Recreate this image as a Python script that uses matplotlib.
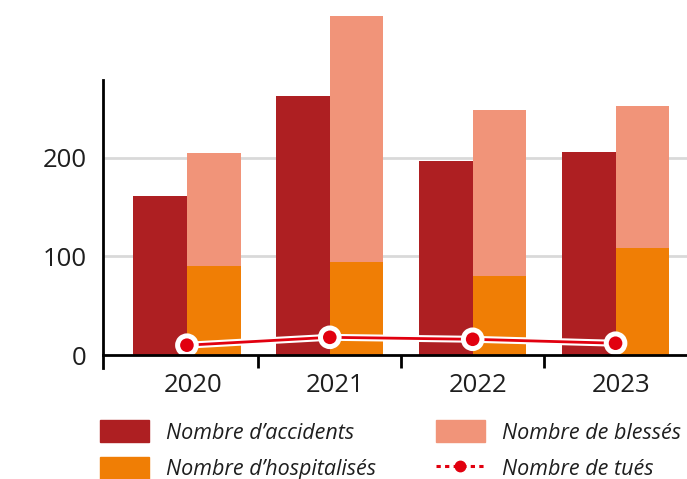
import numpy as np
import matplotlib
matplotlib.use('Agg')
from matplotlib import pyplot as plt
from matplotlib.lines import Line2D
from matplotlib.patches import Patch
import matplotlib.patheffects as pe

years = ['2020', '2021', '2022', '2023']
accidents = [161, 263, 197, 206]
blesses = [205, 344, 249, 253]
hospitalises = [90, 94, 80, 109]
tues = [10, 18, 16, 12]

c_acc = '#ae1f22'
c_bless = '#f19479'
c_hosp = '#f07e05'
c_tues = '#e1000f'
txt = '#1e1e1e'

plt.rcParams['font.family'] = ['Open Sans', 'DejaVu Sans']

fig = plt.figure(figsize=(6.87, 4.79), dpi=100)
ax = fig.add_axes([0.150, 0.232, 0.850, 0.601])

x = np.arange(len(years))
w = 0.375
ax.bar(x - w / 2, accidents, width=w, color=c_acc, zorder=2, clip_on=False)
ax.bar(x + w / 2, blesses, width=w, color=c_bless, zorder=2, clip_on=False)
ax.bar(x + w / 2, hospitalises, width=w, color=c_hosp, zorder=3, clip_on=False)
ax.plot(x, tues, color=c_tues, lw=2, marker='o', ms=12, mfc=c_tues, mec='white',
        mew=2.2, zorder=5, clip_on=False,
        path_effects=[pe.Stroke(linewidth=5, foreground='white'), pe.Normal()])

ax.set_xlim(-0.587, 3.5)
ax.set_ylim(-13, 279)

for yv in [100, 200]:
    ax.axhline(yv, color='#d9d9d9', lw=2, zorder=1)

ax.spines['top'].set_visible(False)
ax.spines['right'].set_visible(False)
ax.spines['bottom'].set_position(('data', 0))
ax.spines['bottom'].set_linewidth(2)
ax.spines['left'].set_linewidth(2)
ax.spines['bottom'].set_zorder(6)

ax.set_yticks([0, 100, 200])
ax.set_yticklabels(['0', '100', '200'])
ax.tick_params(axis='y', length=0, pad=12, labelsize=18.5, labelcolor=txt)

ax.set_xticks(x[:-1] + 0.5)
ax.set_xticklabels([])
ax.tick_params(axis='x', direction='out', length=9, width=2)
for i, yr in enumerate(years):
    ax.text(x[i] + 0.04, -18, yr, ha='center', va='top', fontsize=18.5, color=txt)

handles = [
    Patch(color=c_acc),
    Patch(color=c_hosp),
    Patch(color=c_bless),
    Line2D([0], [0], color=c_tues, lw=2.2, linestyle=(0, (1.4, 1.4)), marker='o', ms=7.5,
           mfc=c_tues, mec=c_tues),
]
labels = ["Nombre d\u2019accidents", "Nombre d\u2019hospitalisés",
          "Nombre de blessés", "Nombre de tués"]
leg = fig.legend(handles, labels, ncol=2, loc='upper left',
                 bbox_to_anchor=(0.117, 0.163), frameon=False,
                 prop={'size': 15.5, 'style': 'italic'},
                 handlelength=2.3, handleheight=1.2, handletextpad=0.8,
                 columnspacing=2.75, labelspacing=0.62)
for t in leg.get_texts():
    t.set_color(txt)

plt.savefig('out.png', dpi=100)
